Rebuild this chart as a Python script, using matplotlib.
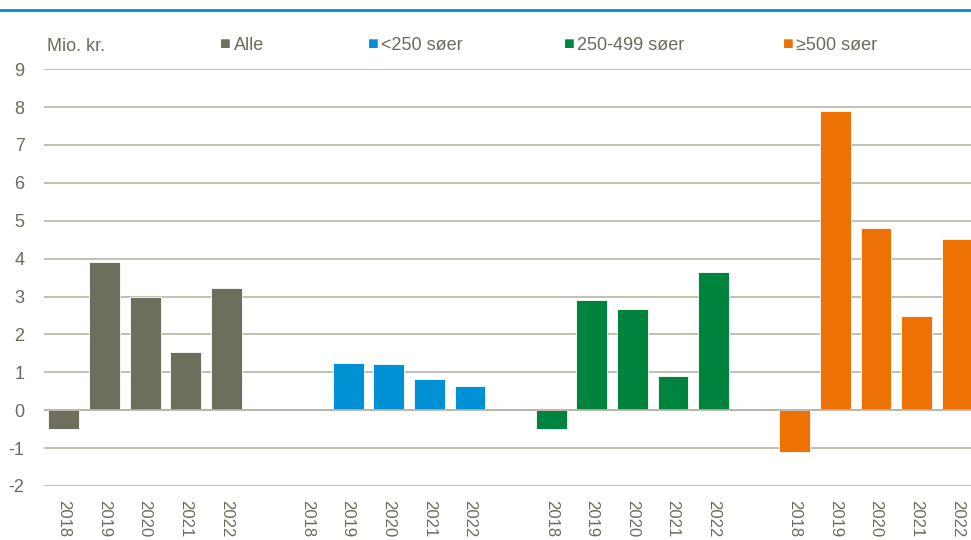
import numpy as np
import matplotlib.pyplot as plt
from matplotlib.lines import Line2D

plt.rcParams['font.family'] = ['Liberation Sans', 'DejaVu Sans']

years = ['2018', '2019', '2020', '2021', '2022']
groups = ['Alle', '<250 søer', '250-499 søer', '≥500 søer']
alle = [-0.5, 3.9, 2.98, 1.54, 3.22]
under_250 = [np.nan, 1.24, 1.22, 0.82, 0.64]
mid_250_499 = [-0.5, 2.91, 2.66, 0.91, 3.64]
over_500 = [-1.1, 7.89, 4.81, 2.49, 4.53]
colors = ['#6e6e5c', '#0091d5', '#00843d', '#ee7203']

text_col = '#6b6b5d'
grid_col = '#b8b4a6'

fig = plt.figure(figsize=(9.71, 5.4), dpi=100)
ax = fig.add_axes([0.0453, 0.1, 0.9547, 0.772])

series = [alle, under_250, mid_250_499, over_500]
xpos, xlab = [], []
for g, (vals, col) in enumerate(zip(series, colors)):
    x = np.arange(len(years)) + g * 6
    ax.bar(x, vals, width=0.76, color=col, edgecolor='white', linewidth=0.6, zorder=3)
    xpos.extend(x)
    xlab.extend(years)

ax.set_xlim(-0.49, 22.34)
ax.set_ylim(-2, 9)
ax.set_yticks(range(-2, 10))
ax.set_yticklabels([str(v) for v in range(-2, 10)])
ax.set_xticks(xpos)
ax.set_xticklabels(xlab, rotation=270, va='top', ha='center')
ax.grid(axis='y', color=grid_col, linewidth=1.2, zorder=0)
ax.axhline(0, color=grid_col, linewidth=1.2, zorder=4)
for s in ax.spines.values():
    s.set_visible(False)
ax.tick_params(axis='both', length=0, colors=text_col)
ax.tick_params(axis='y', labelsize=13, pad=14)
ax.tick_params(axis='x', labelsize=12, pad=10)

# top rule
fig.add_artist(Line2D([0, 1], [0.982, 0.982], color='#0091d5', linewidth=2))

fig.text(0.048, 0.913, 'Mio. kr.', fontsize=13, color=text_col, va='center')
legend_x = [0.227, 0.379, 0.581, 0.806]
for lx, lab, col in zip(legend_x, groups, colors):
    fig.text(lx, 0.917, '■', fontsize=13, color=col, va='center', ha='left')
    fig.text(lx + 0.0135, 0.915, lab, fontsize=13, color=text_col, va='center', ha='left')

fig.savefig('out.png', dpi=100)
